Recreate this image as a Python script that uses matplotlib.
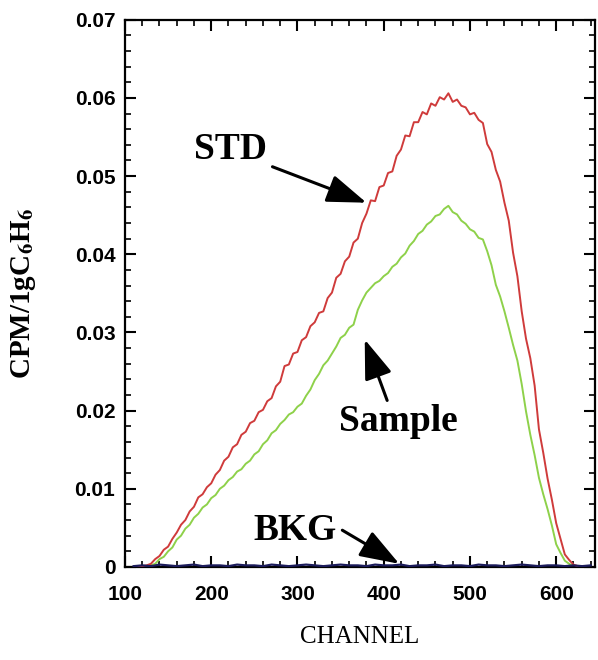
import matplotlib
matplotlib.use('Agg')
import matplotlib.pyplot as plt
from matplotlib.ticker import MultipleLocator, FuncFormatter
import numpy as np

# --- data ---
channel = np.arange(115, 635, 5)

std_cpm = [
    0.0000, 0.0001, 0.0002, 0.0004, 0.0010, 0.0014, 0.0022, 0.0026, 0.0036, 0.0044,
    0.0054, 0.0060, 0.0071, 0.0077, 0.0089, 0.0093, 0.0102, 0.0107, 0.0118, 0.0124,
    0.0136, 0.0141, 0.0153, 0.0157, 0.0169, 0.0173, 0.0184, 0.0187, 0.0198, 0.0201,
    0.0212, 0.0216, 0.0231, 0.0237, 0.0257, 0.0259, 0.0273, 0.0275, 0.0290, 0.0294,
    0.0308, 0.0313, 0.0325, 0.0327, 0.0344, 0.0351, 0.0370, 0.0375, 0.0391, 0.0397,
    0.0415, 0.0420, 0.0440, 0.0452, 0.0469, 0.0468, 0.0486, 0.0488, 0.0504, 0.0506,
    0.0526, 0.0534, 0.0552, 0.0551, 0.0569, 0.0569, 0.0582, 0.0579, 0.0593, 0.0590,
    0.0601, 0.0598, 0.0606, 0.0595, 0.0598, 0.0590, 0.0588, 0.0579, 0.0581, 0.0572,
    0.0568, 0.0541, 0.0531, 0.0508, 0.0493, 0.0466, 0.0443, 0.0402, 0.0372, 0.0327,
    0.0292, 0.0267, 0.0232, 0.0176, 0.0146, 0.0113, 0.0086, 0.0056, 0.0036, 0.0016,
    0.0009, 0.0003, 0.0001, 0.0000,
]

sample_cpm = [
    0.0000, 0.0000, 0.0001, 0.0002, 0.0004, 0.0010, 0.0013, 0.0020, 0.0025, 0.0035,
    0.0040, 0.0049, 0.0054, 0.0063, 0.0068, 0.0076, 0.0080, 0.0088, 0.0092, 0.0100,
    0.0104, 0.0111, 0.0115, 0.0122, 0.0125, 0.0132, 0.0136, 0.0144, 0.0148, 0.0157,
    0.0162, 0.0171, 0.0175, 0.0183, 0.0188, 0.0195, 0.0198, 0.0205, 0.0209, 0.0219,
    0.0227, 0.0239, 0.0247, 0.0258, 0.0264, 0.0273, 0.0282, 0.0293, 0.0297, 0.0306,
    0.0310, 0.0329, 0.0341, 0.0351, 0.0357, 0.0363, 0.0366, 0.0372, 0.0376, 0.0384,
    0.0388, 0.0396, 0.0401, 0.0411, 0.0417, 0.0426, 0.0430, 0.0438, 0.0442, 0.0449,
    0.0451, 0.0458, 0.0462, 0.0454, 0.0451, 0.0443, 0.0439, 0.0432, 0.0429, 0.0421,
    0.0419, 0.0404, 0.0386, 0.0361, 0.0346, 0.0327, 0.0306, 0.0284, 0.0264, 0.0234,
    0.0199, 0.0169, 0.0143, 0.0114, 0.0093, 0.0074, 0.0053, 0.0029, 0.0018, 0.0008,
    0.0004, 0.0001, 0.0000, 0.0000,
]

bkg_channel = np.arange(110, 650, 10)
bkg_cpm = [
    0.0001, 0.0002, 0.0001, 0.0003, 0.0002, 0.0001, 0.0002, 0.0003, 0.0001, 0.0002,
    0.0002, 0.0001, 0.0003, 0.0002, 0.0002, 0.0001, 0.0003, 0.0002, 0.0001, 0.0002,
    0.0003, 0.0002, 0.0001, 0.0002, 0.0003, 0.0002, 0.0002, 0.0001, 0.0003, 0.0002,
    0.0002, 0.0003, 0.0001, 0.0002, 0.0002, 0.0003, 0.0001, 0.0002, 0.0002, 0.0001,
    0.0003, 0.0002, 0.0002, 0.0001, 0.0002, 0.0003, 0.0002, 0.0001, 0.0002, 0.0002,
    0.0001, 0.0002, 0.0001, 0.0002,
]

# label text, where it sits, and where its arrow points (channel, cpm)
labels = ['STD', 'Sample', 'BKG']
label_xy = [(222, 0.0534), (417, 0.0186), (297, 0.0047)]
arrow_tail = [(271, 0.0512), (404, 0.0213), (352, 0.0047)]
arrow_tip = [(380, 0.0466), (378, 0.0291), (418, 0.0004)]

plt.rcParams['mathtext.fontset'] = 'stix'

fig = plt.figure(figsize=(5.98, 6.6), dpi=100)
ax = fig.add_axes([0.209, 0.141, 0.786, 0.829])

ax.plot(channel, sample_cpm, color='#8ed14a', lw=1.4, zorder=2)
ax.plot(channel, std_cpm, color='#cf3b3b', lw=1.4, zorder=3)
ax.plot(bkg_channel, bkg_cpm, color='#1c1c5c', lw=1.6, zorder=4)

for txt, pos, tail, tip in zip(labels, label_xy, arrow_tail, arrow_tip):
    ax.text(pos[0], pos[1], txt, ha='center', va='center', fontsize=27,
            fontweight='bold', family='Liberation Serif')
    ax.annotate('', xy=tip, xytext=tail,
                arrowprops=dict(arrowstyle='-|>,head_length=1.35,head_width=0.48',
                                mutation_scale=18, lw=2.2, color='black',
                                shrinkA=0, shrinkB=0))

ax.set_xlim(100, 645)
ax.set_ylim(0, 0.07)
ax.xaxis.set_major_locator(MultipleLocator(100))
ax.xaxis.set_minor_locator(MultipleLocator(20))
ax.yaxis.set_major_locator(MultipleLocator(0.01))
ax.yaxis.set_minor_locator(MultipleLocator(0.002))
ax.yaxis.set_major_formatter(FuncFormatter(lambda v, p: '0' if abs(v) < 1e-9 else f'{v:.2f}'))

ax.tick_params(which='both', direction='in', top=True, right=True)
ax.tick_params(which='major', length=8, width=1.5)
ax.tick_params(which='minor', length=4.5, width=1.2)
ax.tick_params(axis='x', which='major', pad=13)
ax.tick_params(axis='y', which='major', pad=7)
for lab in ax.get_xticklabels() + ax.get_yticklabels():
    lab.set_fontfamily('Liberation Sans')
    lab.set_fontweight('bold')
    lab.set_fontsize(15)
for s in ax.spines.values():
    s.set_linewidth(1.6)

ax.set_xlabel('CHANNEL', fontsize=18, family='Liberation Serif', labelpad=16)
ax.set_ylabel(r'CPM/1gC$_\mathbf{6}$H$_\mathbf{6}$', fontsize=21,
              family='Liberation Serif', fontweight='bold', labelpad=26)

fig.savefig('out.png', dpi=100, facecolor='white')
